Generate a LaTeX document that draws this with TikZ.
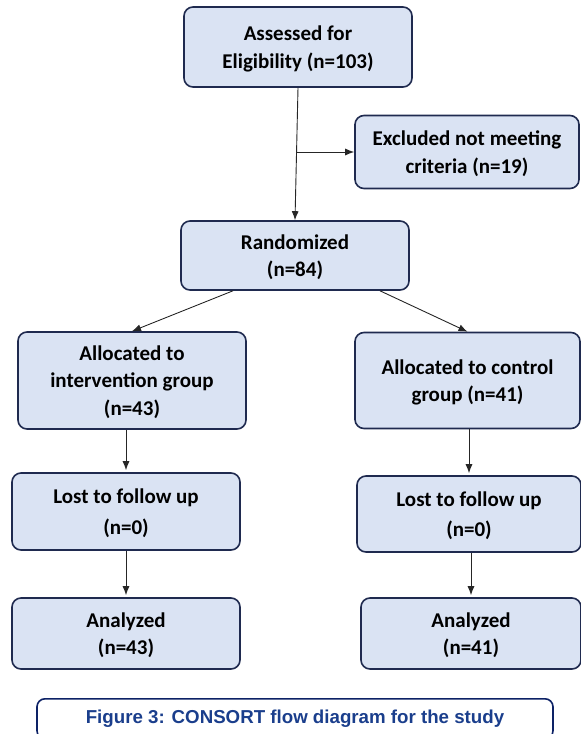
\documentclass[tikz,border=0pt]{standalone}
\usepackage{fontspec}
\setmainfont{Carlito}
\newfontfamily\capfont{Liberation Sans}
\usetikzlibrary{arrows.meta}
\tikzset{>={Latex[length=9pt,width=7pt]}}
\definecolor{boxfill}{HTML}{DAE3F3}
\definecolor{boxline}{HTML}{1F2A4F}
\definecolor{capcol}{HTML}{1A3E8C}
\definecolor{capline}{HTML}{0D2266}
\tikzstyle{flowbox}=[draw=boxline,fill=boxfill,line width=1.6pt,rounded corners=9pt,
                     align=center,inner sep=0pt,text depth=0pt,
                     font=\bfseries\fontsize{21}{27.5}\selectfont]
\tikzstyle{flow}=[->,black!85,line width=0.9pt]
\tikzstyle{capbox}=[draw=capline,line width=1.6pt,rounded corners=8pt,
                    text=capcol,font=\capfont\bfseries\fontsize{18.7}{20}\selectfont]

\begin{document}
\begin{tikzpicture}[x=1pt,y=-1pt]
  \useasboundingbox (0,0) rectangle (581,734);
  \clip (0,0) rectangle (581,734);

  % TOP
  \node[flowbox,minimum width=228,minimum height=80] (assessed) at (298,47)
    {Assessed for\\Eligibility (n=103)};
  \node[flowbox,minimum width=224,minimum height=73] (excluded) at (467,152)
    {Excluded not meeting\\criteria (n=19)};
  \node[flowbox,minimum width=228,minimum height=69] (random) at (295,255.5)
    {Randomized\\(n=84)};

  % GROUPS
  \node[flowbox,minimum width=228,minimum height=97] (allocI) at (132,380.5)
    {Allocated to\\intervention group\\(n=43)};
  \node[flowbox,minimum width=225,minimum height=96] (allocC) at (467.5,380.5)
    {Allocated to control\\group (n=41)};
  \node[flowbox,minimum width=228,minimum height=77] (lostI) at (126,511.5)
    {Lost to follow up\\[3pt](n=0)};
  \node[flowbox,minimum width=224,minimum height=76] (lostC) at (469,514)
    {Lost to follow up\\[3pt](n=0)};
  \node[flowbox,minimum width=228,minimum height=71] (anaI) at (126,633.5)
    {Analyzed\\(n=43)};
  \node[flowbox,minimum width=220,minimum height=71] (anaC) at (471,633.5)
    {Analyzed\\(n=41)};

  % CAPTION
  \node[capbox,anchor=north,minimum width=516,minimum height=40] (caption) at (295,698)
    {Figure 3: CONSORT flow diagram for the study};

  % ARROWS
  \draw[flow] (assessed.south) -- (random.north);
  \coordinate (split) at (296.6,152);
  \draw[flow] (split) -- (excluded.west);
  \draw[flow] ([xshift=-62]random.south) -- (allocI.north);
  \draw[flow] ([xshift=85]random.south) -- (allocC.north);
  \foreach \a/\b in {allocI/lostI,allocC/lostC,lostI/anaI,lostC/anaC}{
    \draw[flow,shorten >=2pt] (\b.north |- \a.south) -- (\b.north);
  }
\end{tikzpicture}
\end{document}
